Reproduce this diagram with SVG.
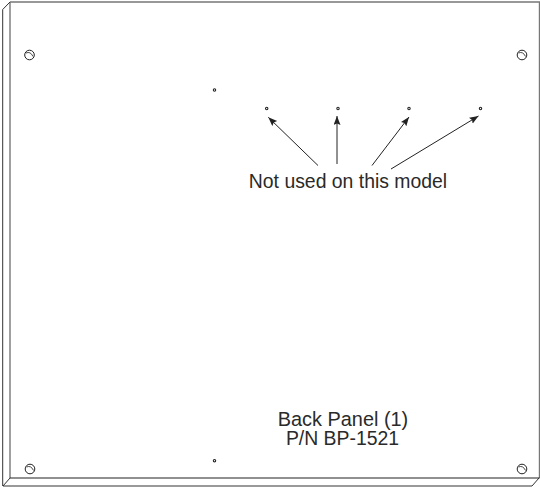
<svg xmlns="http://www.w3.org/2000/svg" width="540" height="487" viewBox="0 0 540 487">
<defs>
<style>
.e{fill:none;stroke:#333;stroke-width:1}
.k{fill:none;stroke:#222;stroke-width:1.2}
.g{fill:none;stroke:#777;stroke-width:1.4}
.h{fill:#fff;stroke:#222;stroke-width:1}
.p{fill:#fff;stroke:#222;stroke-width:1.1}
.d{fill:none;stroke:#333;stroke-width:.9}
.a{fill:none;stroke:#222;stroke-width:1}
text{font-family:"Liberation Sans",Arial,sans-serif;fill:#2a2a2a;text-anchor:middle}
</style>
<marker id="ah" markerWidth="10" markerHeight="8" refX="9" refY="3.500" orient="auto" markerUnits="userSpaceOnUse"><path d="M0 0L9 3.500L0 7L1.500 3.500Z" fill="#222"/></marker>
</defs>
<rect width="540" height="487" fill="#fff"/>
<g id="panel">
<path class="g" d="M10 2H539.500V478"/>
<path class="g" d="M3 486H532"/>
<path class="g" d="M10 2V478"/>
<path class="e" d="M2.700 9.500V486"/>
<path class="e" d="M10 2L2.700 9.500M10 478L3 486M539 478L532 486"/>
<path class="k" d="M10 478H539.500"/>
</g>
<g id="hole-tl"><circle class="h" cx="29.500" cy="55" r="4.800"/><path class="d" d="M26 53Q30.500 51 33 56.500"/></g>
<g id="hole-tr"><circle class="h" cx="522" cy="55" r="4.800"/><path class="d" d="M518.500 53Q523 51 525.500 56.500"/></g>
<g id="hole-bl"><circle class="h" cx="30" cy="469" r="4.800"/><path class="d" d="M26.500 467Q31 465 33.500 470.500"/></g>
<g id="hole-br"><circle class="h" cx="522" cy="469" r="4.800"/><path class="d" d="M518.500 467Q523 465 525.500 470.500"/></g>
<g id="pin-1"><circle class="p" cx="214.500" cy="90" r="1.200"/></g>
<g id="pin-2"><circle class="p" cx="266.700" cy="108.500" r="1.200"/></g>
<g id="pin-3"><circle class="p" cx="338" cy="108.500" r="1.200"/></g>
<g id="pin-4"><circle class="p" cx="409" cy="108.500" r="1.200"/></g>
<g id="pin-5"><circle class="p" cx="480.500" cy="108.500" r="1.200"/></g>
<g id="pin-6"><circle class="p" cx="214.500" cy="460.700" r="1.200"/></g>
<g id="connectors">
<line class="a" x1="318" y1="165.500" x2="268.300" y2="117.300" marker-end="url(#ah)"/>
<line class="a" x1="337" y1="164" x2="337" y2="116" marker-end="url(#ah)"/>
<line class="a" x1="372" y1="165.500" x2="409" y2="117" marker-end="url(#ah)"/>
<line class="a" x1="391" y1="169" x2="478.500" y2="116" marker-end="url(#ah)"/>
</g>
<g id="labels">
<text x="348" y="187.500" font-size="19.400">Not used on this model</text>
<text x="343" y="425.500" font-size="19.900">Back Panel (1)</text>
<text x="342.500" y="445" font-size="19.400">P/N BP-1521</text>
</g>
</svg>
